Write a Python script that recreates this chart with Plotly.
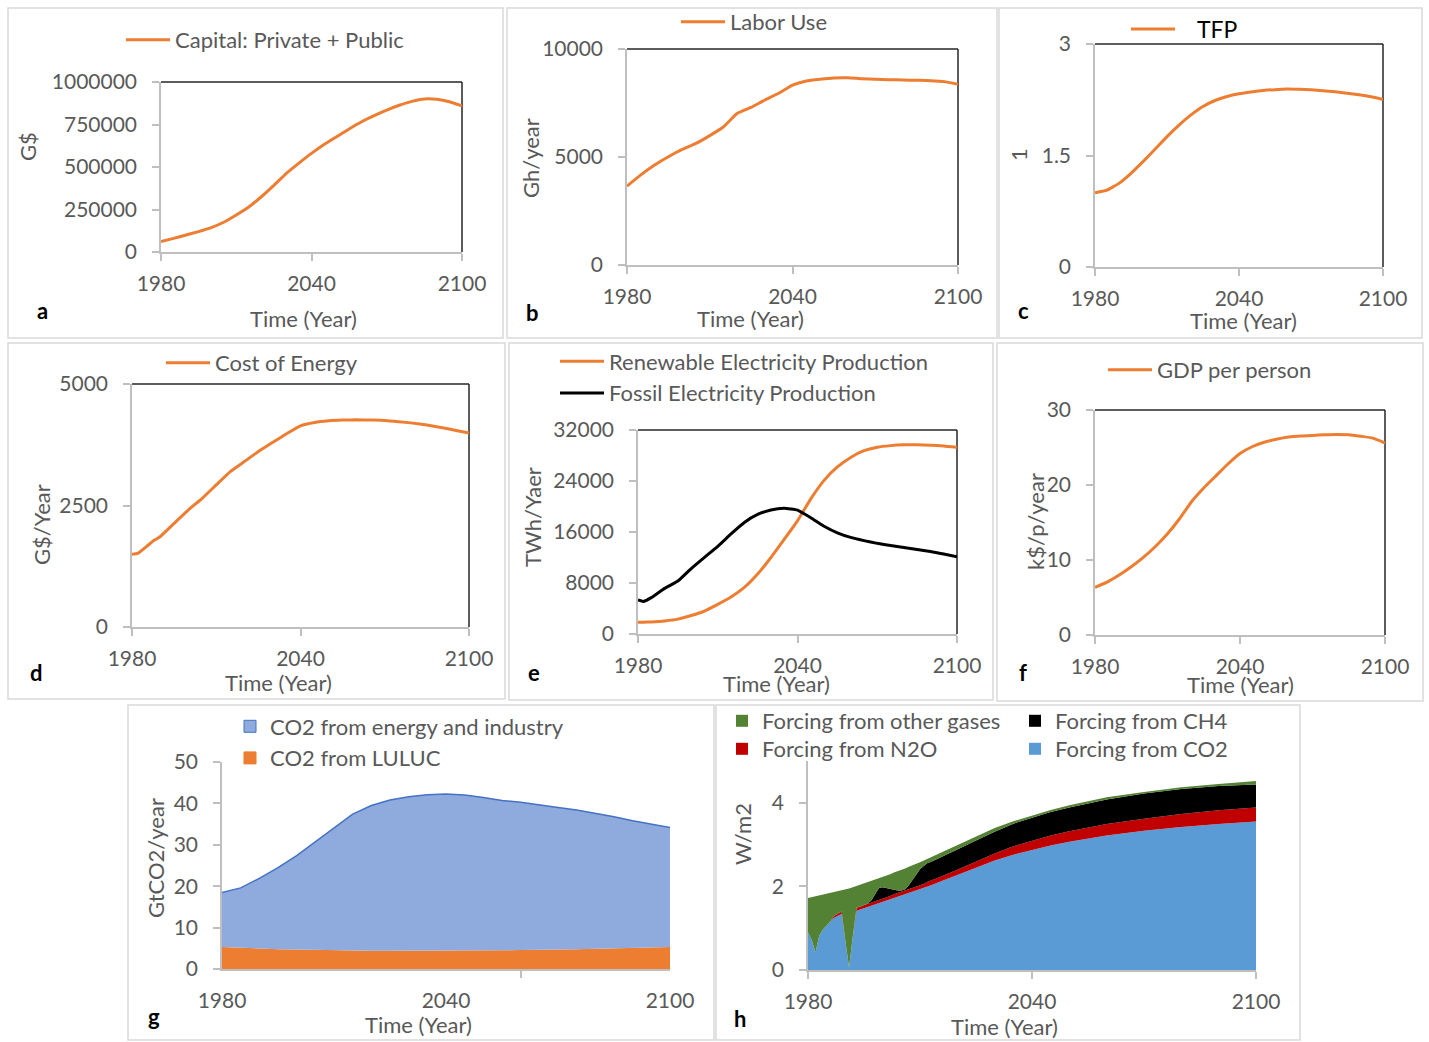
import plotly.graph_objects as go

W, H = 1429, 1042
FONT = "Lato"
TXT = "#595959"
AXC = "#BFBFBF"
FRAME = "#D9D9D9"
ORANGE = "#ED7D31"

# ---------------- data ----------------
years = [1980, 1985, 1990, 1995, 2000, 2005, 2010, 2015, 2020, 2025, 2030, 2035, 2040,
         2045, 2050, 2055, 2060, 2065, 2070, 2075, 2080, 2085, 2090, 2095, 2100]

capital = [62000, 80000, 100000, 120000, 143000, 175000, 218000, 265000, 325000, 392000,
           463000, 523000, 580000, 632000, 678000, 724000, 766000, 802000, 835000, 863000,
           886000, 900000, 898000, 884000, 860000]

labor = [3650, 4170, 4630, 5015, 5355, 5630, 5990, 6400, 7020, 7300, 7640, 7950, 8330,
         8520, 8600, 8660, 8670, 8625, 8600, 8580, 8565, 8550, 8535, 8490, 8365]

tfp = [1.0, 1.035, 1.125, 1.26, 1.417, 1.583, 1.754, 1.91, 2.047, 2.16, 2.24, 2.294, 2.33,
       2.355, 2.375, 2.386, 2.393, 2.39, 2.384, 2.372, 2.357, 2.338, 2.317, 2.29, 2.254]

years_d = [1980, 1982, 1985, 1988, 1990, 1995, 2000, 2005, 2010, 2015, 2020, 2025, 2030,
           2035, 2040, 2045, 2050, 2055, 2060, 2065, 2070, 2075, 2080, 2085, 2090, 2095, 2100]
energy_cost = [1499, 1513, 1650, 1788, 1857, 2132, 2407, 2648, 2923, 3198, 3404, 3610, 3796,
               3975, 4140, 4209, 4243, 4258, 4264, 4258, 4250, 4225, 4195, 4155, 4106, 4050,
               3989]

gdp_pp = [6.36, 7.05, 8.0, 9.1, 10.35, 11.8, 13.5, 15.5, 17.8, 19.6, 21.2, 22.8, 24.2,
          25.1, 25.7, 26.1, 26.4, 26.55, 26.6, 26.7, 26.75, 26.7, 26.5, 26.25, 25.6]

years_e = [1980, 1982, 1985, 1990, 1995, 2000, 2005, 2010, 2015, 2020, 2025, 2030, 2035,
           2040, 2045, 2050, 2055, 2060, 2065, 2070, 2075, 2080, 2085, 2090, 2095, 2100]
renewable = [1830, 1850, 1900, 2050, 2330, 2900, 3600, 4650, 5800, 7300, 9400, 12000, 14860,
             17750, 21200, 24100, 26200, 27700, 28750, 29290, 29550, 29680, 29700, 29620,
             29490, 29280]
fossil = [5330, 5100, 5700, 7160, 8300, 10250, 12020, 13750, 15700, 17500, 18750, 19460,
          19720, 19430, 18240, 16900, 15870, 15150, 14650, 14220, 13880, 13560, 13250,
          12950, 12560, 12130]

co2_luluc = [5.3, 5.1, 4.9, 4.8, 4.7, 4.6, 4.5, 4.5, 4.4, 4.4, 4.4, 4.4, 4.4,
             4.4, 4.5, 4.5, 4.6, 4.6, 4.7, 4.8, 4.9, 5.0, 5.1, 5.2, 5.3]
co2_energy = [13.2, 14.5, 17.0, 19.7, 22.7, 26.1, 29.7, 32.9, 35.1, 36.4, 37.2, 37.7, 37.9,
              37.6, 36.9, 36.2, 35.7, 35.0, 34.3, 33.6, 32.7, 31.8, 30.7, 29.8, 28.9]

years_h = [1980, 1981, 1982, 1983, 1984, 1985, 1986, 1987, 1988, 1989, 1990, 1991, 1992,
           1993, 1994, 1995, 1996, 1997, 1998, 1999, 2000, 2001, 2002, 2003, 2004, 2005,
           2006, 2007, 2008, 2009, 2010, 2011, 2012, 2013, 2015, 2020, 2025, 2030, 2035,
           2040, 2045, 2050, 2060, 2070, 2080, 2090, 2100]
forcing_co2 = [0.90, 0.72, 0.42, 0.82, 0.97, 1.06, 1.16, 1.25, 1.30, 1.34, 0.70, 0.06, 0.80,
               1.42, 1.45, 1.48, 1.51, 1.54, 1.57, 1.60, 1.63, 1.66, 1.69, 1.72, 1.75, 1.78,
               1.81, 1.84, 1.87, 1.90, 1.93, 1.96, 2.00, 2.03, 2.10, 2.27, 2.45, 2.62, 2.76,
               2.87, 2.98, 3.07, 3.22, 3.33, 3.42, 3.49, 3.55]
forcing_n2o = [0, 0, 0, 0, 0, 0, 0, 0.05, 0.06, 0.06, 0, 0, 0,
               0.07, 0.07, 0.07, 0.08, 0.08, 0.08, 0.08, 0.08, 0.08, 0.08, 0.09, 0.09, 0.09,
               0.09, 0.09, 0.10, 0.10, 0.10, 0.10, 0.11, 0.11, 0.11, 0.13, 0.15, 0.17, 0.20,
               0.22, 0.24, 0.25, 0.27, 0.29, 0.31, 0.33, 0.34]
forcing_ch4 = [0, 0, 0, 0, 0, 0, 0, 0, 0, 0, 0, 0, 0,
               0, 0, 0, 0, 0.05, 0.18, 0.28, 0.27, 0.22, 0.17, 0.11, 0.06, 0.03,
               0.03, 0.10, 0.18, 0.28, 0.38, 0.43, 0.45, 0.45, 0.46, 0.48, 0.50, 0.52, 0.54,
               0.55, 0.56, 0.57, 0.59, 0.60, 0.60, 0.58, 0.55]
forcing_other = [0.82, 1.02, 1.34, 0.96, 0.83, 0.76, 0.68, 0.56, 0.52, 0.50, 1.22, 1.89, 1.18,
                 0.52, 0.52, 0.52, 0.51, 0.46, 0.33, 0.23, 0.24, 0.30, 0.35, 0.41, 0.46, 0.50,
                 0.50, 0.44, 0.35, 0.26, 0.17, 0.13, 0.10, 0.11, 0.11, 0.10, 0.09, 0.09, 0.06,
                 0.06, 0.05, 0.05, 0.05, 0.04, 0.04, 0.05, 0.08]

# tick values / labels
year_ticks = [1980, 2040, 2100]
year_labels = ["1980", "2040", "2100"]
cap_ticks = [0, 250000, 500000, 750000, 1000000]
cap_labels = ["0", "250000", "500000", "750000", "1000000"]
labor_ticks = [0, 5000, 10000]
labor_labels = ["0", "5000", "10000"]
tfp_ticks = [0, 1.5, 3]
tfp_labels = ["0", "1.5", "3"]
cost_ticks = [0, 2500, 5000]
cost_labels = ["0", "2500", "5000"]
elec_ticks = [0, 8000, 16000, 24000, 32000]
elec_labels = ["0", "8000", "16000", "24000", "32000"]
gdp_ticks = [0, 10, 20, 30]
gdp_labels = ["0", "10", "20", "30"]
co2_ticks = [0, 10, 20, 30, 40, 50]
co2_labels = ["0", "10", "20", "30", "40", "50"]
forc_ticks = [0, 2, 4]
forc_labels = ["0", "2", "4"]


def px(x):
    return x / W


def py(y):
    return 1 - y / H


# key, plot box (left, right, top, bottom) in px, y range, ticks, labels, y title,
# y-title pos, x-title pos, letter pos, panel frame (l, t, r, b), framed plot area
panels = [
    ("a", (161, 462, 82, 252), [0, 1000000], cap_ticks, cap_labels, "G$",
     (27, 147), (303, 318), (42, 310), (8, 8, 503, 338), True),
    ("b", (627, 958, 49, 265), [0, 10000], labor_ticks, labor_labels, "Gh/year",
     (530, 158), (750, 318), (532, 312), (507, 8, 997, 338), True),
    ("c", (1095, 1383, 44, 267), [0, 3], tfp_ticks, tfp_labels, "1",
     (1018, 155), (1243, 320), (1023, 311), (999, 8, 1422, 338), True),
    ("d", (132, 469, 384, 627), [0, 5000], cost_ticks, cost_labels, "G$/Year",
     (41, 525), (278, 682), (36, 672), (8, 343, 505, 699), True),
    ("e", (638, 957, 430, 634), [0, 32000], elec_ticks, elec_labels, "TWh/Yaer",
     (532, 517), (776, 683), (534, 672), (509, 343, 993, 700), True),
    ("f", (1095, 1385, 410, 635), [0, 30], gdp_ticks, gdp_labels, "k$/p/year",
     (1035, 522), (1240, 684), (1023, 672), (997, 343, 1423, 701), True),
    ("g", (222, 670, 762, 969), [0, 50], co2_ticks, co2_labels, "GtCO2/year",
     (155, 858), (418, 1024), (154, 1016), (128, 705, 714, 1040), False),
    ("h", (808, 1256, 761, 970), [0, 5], forc_ticks, forc_labels, "W/m2",
     (742, 834), (1004, 1026), (740, 1018), (716, 705, 1300, 1040), False),
]

fig = go.Figure()
layout = dict(
    width=W, height=H,
    margin=dict(l=0, r=0, t=0, b=0, autoexpand=False),
    paper_bgcolor="white", plot_bgcolor="white",
    font=dict(family=FONT, size=21, color=TXT),
)
shapes = []
annotations = []

tickfont = dict(family=FONT, size=21, color=TXT)

for i, (key, box, yr, ytv, ytt, ytitle, ytp, xtp, lp, frame, framed) in enumerate(panels):
    n = "" if i == 0 else str(i + 1)
    l, r, t, b = box
    xa = dict(domain=[px(l), px(r)], anchor="y" + n, range=[1980, 2100],
              tickvals=year_ticks, ticktext=year_labels,
              showline=True, linecolor=AXC, linewidth=1.5, ticks="outside",
              tickcolor=AXC, tickwidth=1.5, ticklen=7, showgrid=False, zeroline=False,
              tickfont=tickfont, ticklabelstandoff=5, fixedrange=True, automargin=False)
    if key == "g":
        xa["ticks"] = ""
        xa["minor"] = dict(tickvals=[2060], ticks="outside", ticklen=7,
                           tickcolor=AXC, tickwidth=1.5, showgrid=False)
        xa["ticklabelstandoff"] = 12
    ya = dict(domain=[py(b), py(t)], anchor="x" + n, range=yr,
              tickvals=ytv, ticktext=ytt,
              showline=True, linecolor=AXC, linewidth=1.5, ticks="outside",
              tickcolor=AXC, tickwidth=1.5, ticklen=7, showgrid=False, zeroline=False,
              tickfont=tickfont, ticklabelstandoff=11, fixedrange=True, automargin=False)
    layout["xaxis" + n] = xa
    layout["yaxis" + n] = ya

    if framed:
        shapes.append(dict(type="line", xref="x" + n + " domain", yref="y" + n + " domain",
                           x0=0, x1=1, y0=1, y1=1, line=dict(color="#262626", width=1.5),
                           layer="below"))
        shapes.append(dict(type="line", xref="x" + n + " domain", yref="y" + n + " domain",
                           x0=1, x1=1, y0=0, y1=1, line=dict(color="#262626", width=1.5),
                           layer="below"))
    fl, ft, fr, fb = frame
    shapes.append(dict(type="rect", xref="paper", yref="paper",
                       x0=px(fl), x1=px(fr), y0=py(fb), y1=py(ft),
                       line=dict(color=FRAME, width=1.5), layer="below"))

    annotations.append(dict(text=ytitle, x=px(ytp[0]), y=py(ytp[1]), xref="paper", yref="paper",
                            showarrow=False, textangle=-90, xanchor="center", yanchor="middle",
                            font=dict(family=FONT, size=22, color=TXT)))
    annotations.append(dict(text="Time (Year)", x=px(xtp[0]), y=py(xtp[1]), xref="paper",
                            yref="paper", showarrow=False, xanchor="center", yanchor="middle",
                            font=dict(family=FONT, size=22, color=TXT)))
    annotations.append(dict(text=key, x=px(lp[0]), y=py(lp[1]), xref="paper", yref="paper",
                            showarrow=False, xanchor="center", yanchor="middle",
                            font=dict(family=FONT, size=22, color="black", weight="bold")))


def line_trace(x, y, name, color, n, leg, shape="spline"):
    return go.Scatter(x=x, y=y, name=name, mode="lines",
                      line=dict(color=color, width=3, shape=shape, smoothing=0.4),
                      xaxis="x" + n, yaxis="y" + n, legend=leg, hoverinfo="skip")


fig.add_trace(line_trace(years, capital, "Capital: Private + Public", ORANGE, "", "legend"))
fig.add_trace(line_trace(years, labor, "Labor Use", ORANGE, "2", "legend2"))
fig.add_trace(line_trace(years, tfp, "\u00a0\u00a0\u00a0TFP", ORANGE, "3", "legend3"))
fig.add_trace(line_trace(years_d, energy_cost, "Cost of Energy", ORANGE, "4", "legend4"))
fig.add_trace(line_trace(years_e, renewable, "Renewable Electricity Production", ORANGE, "5", "legend5"))
fig.add_trace(line_trace(years_e, fossil, "Fossil Electricity Production", "black", "5", "legend5"))
fig.add_trace(line_trace(years, gdp_pp, "GDP per person", ORANGE, "6", "legend6"))

# g: stacked CO2 emissions
fig.add_trace(go.Scatter(x=years, y=co2_luluc, name="CO2 from LULUC", stackgroup="g",
                         mode="lines", line=dict(width=0, color=ORANGE), fillcolor=ORANGE,
                         xaxis="x7", yaxis="y7", showlegend=False, hoverinfo="skip"))
fig.add_trace(go.Scatter(x=years, y=co2_energy, name="CO2 from energy and industry",
                         stackgroup="g", mode="lines", line=dict(width=1.5, color="#4472C4"),
                         fillcolor="#8FAADC", xaxis="x7", yaxis="y7", showlegend=False,
                         hoverinfo="skip"))
for name, col, lc in [("CO2 from energy and industry", "#8FAADC", "#4472C4"),
                      ("CO2 from LULUC", ORANGE, ORANGE)]:
    fig.add_trace(go.Scatter(x=[None], y=[None], mode="markers", name=name,
                             marker=dict(symbol="square", size=12, color=col,
                                         line=dict(color=lc, width=1)),
                             xaxis="x7", yaxis="y7", legend="legend7"))

# h: stacked radiative forcing
h_series = [("Forcing from CO2", forcing_co2, "#5B9BD5", "legend11"),
            ("Forcing from N2O", forcing_n2o, "#C00000", "legend10"),
            ("Forcing from CH4", forcing_ch4, "#000000", "legend9"),
            ("Forcing from other gases", forcing_other, "#548235", "legend8")]
for name, vals, col, leg in h_series:
    fig.add_trace(go.Scatter(x=years_h, y=vals, name=name, stackgroup="h", mode="lines",
                             line=dict(width=0, color=col), fillcolor=col,
                             xaxis="x8", yaxis="y8", showlegend=False, hoverinfo="skip"))
for name, vals, col, leg in h_series:
    fig.add_trace(go.Scatter(x=[None], y=[None], mode="markers", name=name,
                             marker=dict(symbol="square", size=12, color=col),
                             xaxis="x8", yaxis="y8", legend=leg))


def legend_cfg(x, y, size=22, color=TXT, itemwidth=44):
    return dict(x=px(x), y=py(y), xanchor="left", yanchor="middle", orientation="v",
                bgcolor="rgba(0,0,0,0)", borderwidth=0, itemwidth=itemwidth,
                tracegroupgap=0, font=dict(family=FONT, size=size, color=color),
                itemclick=False, itemdoubleclick=False)


layout["legend"] = legend_cfg(121, 40)
layout["legend2"] = legend_cfg(676, 22)
layout["legend3"] = legend_cfg(1126, 29, size=23, color="black")
layout["legend4"] = legend_cfg(161, 363)
layout["legend5"] = legend_cfg(555, 377.5)
layout["legend6"] = legend_cfg(1103, 370)
layout["legend7"] = legend_cfg(230, 742.5, itemwidth=30)
layout["legend8"] = legend_cfg(722, 721, itemwidth=30)
layout["legend9"] = legend_cfg(1015, 721, itemwidth=30)
layout["legend10"] = legend_cfg(722, 749, itemwidth=30)
layout["legend11"] = legend_cfg(1015, 749, itemwidth=30)

layout["shapes"] = shapes
layout["annotations"] = annotations
fig.update_layout(**layout)

# remove the page's default body margin so the figure fills the window exactly
fig.write_html("out.html", config={"displayModeBar": False},
               post_script="document.body.style.margin='0';document.body.style.overflow='hidden';")
